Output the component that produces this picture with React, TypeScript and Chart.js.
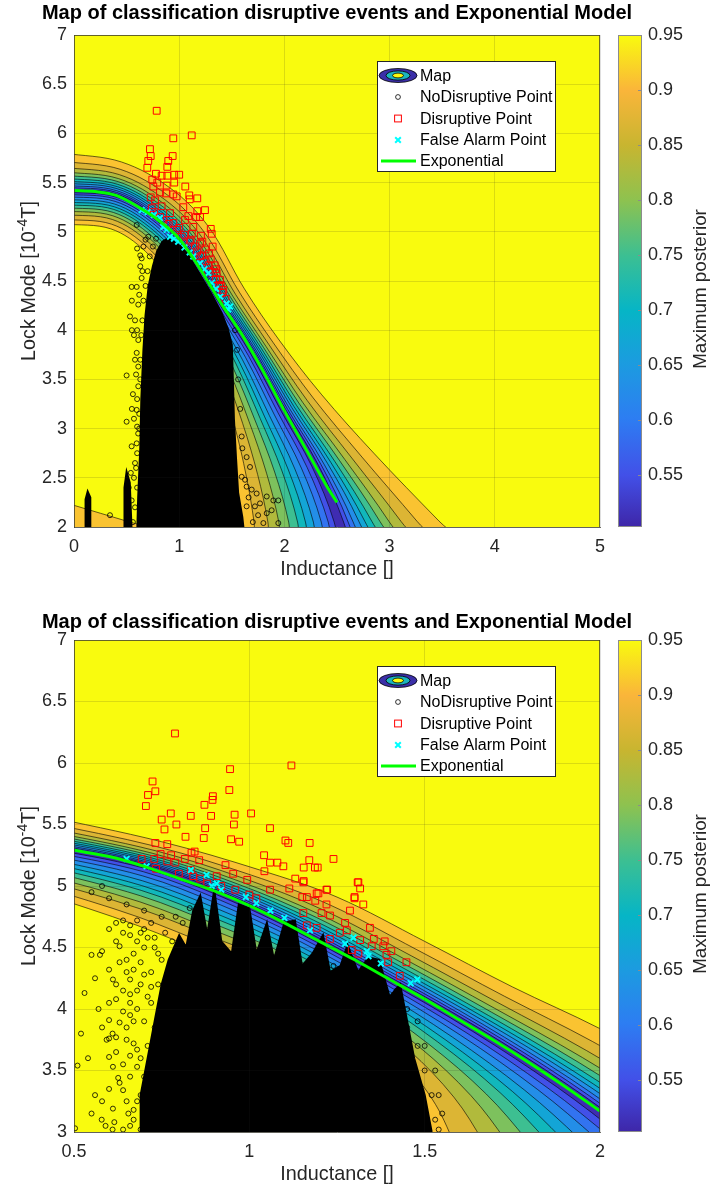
import React, { useEffect, useRef } from 'react';
import { Chart, registerables } from 'chart.js';

Chart.register(...registerables);

type Pt = [number, number];

const FONT = '"Liberation Sans", Arial, Helvetica, sans-serif';
const TEXT = '#262626';
const AXIS = 'rgba(60,60,50,0.75)';
const GRID = 'rgba(38,38,38,0.15)';

// ---------- shared text ----------
const TITLE = 'Map of classification disruptive events and Exponential Model';
const X_LABEL = 'Inductance []';
const Y_LABEL_PARTS = ['Lock Mode [10', '-4', 'T]'];
const CB_LABEL = 'Maximum posterior';
const LEGEND_LABELS = ['Map', 'NoDisruptive Point', 'Disruptive Point', 'False Alarm Point', 'Exponential'];

// ---------- colour bar ----------
const CB_MIN = 0.503;
const CB_MAX = 0.95;
const CB_TICKS = [0.55, 0.6, 0.65, 0.7, 0.75, 0.8, 0.85, 0.9, 0.95];
const PARULA_T = [0, 0.105, 0.22, 0.33, 0.44, 0.55, 0.665, 0.776, 0.888, 1];
const PARULA_C = ['#3E26A8', '#4250E8', '#2D7DF2', '#1C9BE0', '#06B5C6', '#3BBF93', '#8EC24F', '#C8B530', '#FAB53A', '#F9FB0E'];

// ---------- contour levels of the map ----------
const MAP_TOP_VALUE = 0.95;
const CONTOUR_LEVELS = [0.95, 0.91, 0.87, 0.83, 0.79, 0.75, 0.71, 0.67, 0.63, 0.59, 0.55];
const BAND_VALUES = [0.91, 0.87, 0.83, 0.79, 0.75, 0.71, 0.67, 0.63, 0.59, 0.55, 0.51];
const UPPER_FRACTIONS = [1, 0.78, 0.62, 0.5, 0.41, 0.33, 0.26, 0.2, 0.14, 0.09, 0.045];
const LOWER_FRACTIONS = [1, 0.86, 0.72, 0.61, 0.51, 0.42, 0.34, 0.26, 0.18, 0.11, 0.05];

// ================= TOP PANEL =================
const TOP_EXP_X = [0, 0.2, 0.4, 0.6, 0.8, 1.0, 1.2, 1.4, 1.6, 1.8, 2.0, 2.2, 2.4, 2.5];
const TOP_EXP_Y = [5.42, 5.41, 5.37, 5.26, 5.12, 4.93, 4.62, 4.27, 3.95, 3.58, 3.18, 2.8, 2.42, 2.25];

const TOP_MAP_MID: Pt[] = [[-0.1, 5.42], [0.4, 5.37], [0.8, 5.12], [1.1, 4.79], [1.4, 4.27], [1.7, 3.77], [2.0, 3.18], [2.3, 2.62], [2.52, 2.05], [2.6, 1.6]];
const TOP_MAP_UP: Pt[] = [[-0.1, 5.8], [0.45, 5.71], [0.92, 5.44], [1.28, 5.05], [1.62, 4.42], [1.95, 3.9], [2.35, 3.35], [2.85, 2.75], [3.47, 2.06], [3.9, 1.6]];
const TOP_MAP_LO: Pt[] = [[-0.1, 5.08], [0.35, 5.03], [0.68, 4.8], [0.93, 4.45], [1.15, 3.98], [1.32, 3.5], [1.45, 3.0], [1.53, 2.5], [1.58, 2.05], [1.62, 1.6]];
const TOP_CORNER_BAND: Pt[] = [[-0.1, 2.25], [0, 2.22], [0.25, 2.14], [0.5, 2.06], [0.8, 1.97], [0.8, 1.6], [-0.1, 1.6]];

const TOP_BLOB_MAIN: Pt[] = [[0.6, 1.9], [0.61, 2.3], [0.63, 2.8], [0.64, 3.3], [0.66, 3.8], [0.68, 4.15], [0.71, 4.45], [0.75, 4.65], [0.79, 4.8], [0.84, 4.9], [0.92, 4.95], [1.0, 4.88], [1.1, 4.74], [1.2, 4.56], [1.3, 4.38], [1.4, 4.18], [1.46, 4.02], [1.5, 3.85], [1.51, 3.5], [1.52, 3.1], [1.54, 2.7], [1.56, 2.35], [1.6, 2.1], [1.62, 1.9]];
const TOP_BLOB_SPIKE_A: Pt[] = [[0.11, 1.9], [0.11, 2.28], [0.13, 2.36], [0.155, 2.3], [0.155, 1.9]];
const TOP_BLOB_SPIKE_B: Pt[] = [[0.48, 1.9], [0.48, 2.4], [0.5, 2.56], [0.53, 2.45], [0.55, 1.9]];

const TOP_NODIS: Pt[] = [
  [0.548, 4.44], [0.596, 4.44], [0.532, 4.14], [0.611, 4.26], [0.62, 4.36], [0.643, 4.53], [0.65, 4.6], [0.643, 4.73], [0.63, 4.76], [0.6, 4.83],
  [0.596, 5.07], [0.706, 4.95], [0.5, 3.54], [0.5, 3.07], [0.596, 3.19], [0.548, 2.82], [0.596, 3.77], [0.611, 3.9], [0.611, 3.63], [0.611, 3.43],
  [0.596, 2.85], [0.58, 2.65], [0.548, 2.27], [0.342, 2.12], [0.55, 4.0], [0.58, 4.1], [0.6, 3.3], [0.62, 3.0], [0.6, 2.4], [0.58, 2.2],
  [0.63, 4.65], [0.66, 4.85], [0.68, 4.92], [0.55, 4.3], [0.57, 3.95], [0.59, 3.55], [0.6, 3.02], [0.57, 2.5], [0.56, 3.35],
  [0.52, 2.1], [0.56, 2.05], [0.59, 2.6], [0.6, 2.75], [0.61, 2.95], [0.62, 3.15], [0.63, 3.5], [0.63, 3.7], [0.64, 3.95], [0.65, 4.1],
  [0.66, 4.3], [0.68, 4.45], [0.7, 4.6], [0.72, 4.75], [0.75, 4.85], [0.78, 4.93], [0.57, 3.1], [0.55, 3.2], [0.58, 3.7], [0.6, 4.0],
  [0.52, 2.4], [0.54, 2.55],
  [1.594, 2.92], [1.641, 2.71], [1.673, 2.61], [1.626, 2.48], [1.689, 2.38], [1.736, 2.34], [1.768, 2.24], [1.832, 2.14], [1.895, 2.27], [1.942, 2.27],
  [1.942, 2.04], [1.8, 2.04], [1.641, 2.21], [1.594, 2.51], [1.641, 2.41], [1.832, 2.31], [1.879, 2.17], [1.72, 2.21], [1.58, 3.2], [1.56, 3.5],
  [1.55, 3.8], [1.53, 4.0], [1.6, 2.8], [1.7, 2.05], [1.75, 2.12], [1.66, 2.3],
];
const TOP_DIS: Pt[] = [
  [0.786, 6.23], [0.944, 5.95], [1.119, 5.98], [0.722, 5.84], [0.729, 5.77], [0.706, 5.72], [0.938, 5.77], [0.896, 5.72], [0.887, 5.66], [0.697, 5.65],
  [0.779, 5.59], [0.833, 5.57], [0.887, 5.57], [0.953, 5.58], [1.0, 5.58], [0.744, 5.53], [0.792, 5.5], [0.881, 5.47], [0.953, 5.5], [1.058, 5.46],
  [0.754, 5.46], [0.817, 5.4], [0.875, 5.39], [0.944, 5.38], [0.976, 5.36], [0.729, 5.35], [0.77, 5.32], [1.096, 5.37], [1.172, 5.34], [1.1, 5.33],
  [1.039, 5.25], [1.245, 5.22], [1.172, 5.21], [1.087, 5.16], [1.16, 5.15], [1.055, 5.12], [1.198, 5.15], [1.134, 5.05], [1.3, 5.03], [1.309, 4.98],
  [1.207, 4.96], [1.0, 5.04], [1.023, 4.95], [1.109, 4.92], [1.318, 4.85], [1.198, 4.88], [1.283, 4.78], [1.198, 4.75], [1.337, 4.66], [1.356, 4.58],
  [1.388, 4.51], [1.419, 4.41], [0.833, 5.26], [0.739, 5.24], [0.817, 5.15], [0.944, 5.09], [0.913, 5.19], [0.76, 5.2], [0.85, 5.12], [0.9, 5.08],
  [0.98, 5.02], [1.05, 4.97], [1.1, 4.9], [1.15, 4.85], [1.22, 4.76], [1.25, 4.7], [1.28, 4.66], [1.32, 4.58], [1.35, 4.52], [1.38, 4.46],
  [1.41, 4.38], [1.44, 4.32], [1.3, 4.72], [1.25, 4.82], [1.22, 4.9], [1.12, 4.98], [1.35, 4.62], [1.4, 4.45], [1.27, 4.6], [1.17, 4.8],
];
const TOP_FA: Pt[] = [
  [0.643, 5.22], [0.7, 5.2], [0.76, 5.17], [0.817, 5.14], [0.849, 5.05], [0.88, 5.02], [0.913, 4.95], [0.95, 4.93], [0.99, 4.9], [1.05, 4.84],
  [1.1, 4.79], [1.134, 4.75], [1.198, 4.68], [1.24, 4.62], [1.277, 4.58], [1.309, 4.48], [1.35, 4.42], [1.39, 4.34], [1.45, 4.27], [1.467, 4.21], [1.483, 4.24],
];

// ================= BOTTOM PANEL =================
const BOT_EXP_X = [0.5, 0.6, 0.7, 0.8, 0.9, 1.0, 1.1, 1.2, 1.3, 1.4, 1.5, 1.6, 1.7, 1.8, 1.9, 2.0];
const BOT_EXP_Y = [5.29, 5.24, 5.16, 5.06, 4.96, 4.84, 4.7, 4.55, 4.4, 4.24, 4.08, 3.91, 3.74, 3.56, 3.37, 3.17];

const BOT_MAP_MID: Pt[] = [[0.4, 5.34], [0.7, 5.17], [0.92, 4.94], [1.15, 4.63], [1.4, 4.24], [1.65, 3.83], [1.9, 3.37], [2.1, 2.95], [2.25, 2.6]];
const BOT_MAP_UP: Pt[] = [[0.4, 5.58], [0.75, 5.36], [1.03, 5.13], [1.25, 4.91], [1.5, 4.55], [1.75, 4.18], [2.0, 3.84], [2.25, 3.45], [2.45, 3.1]];
const BOT_MAP_LO: Pt[] = [[0.4, 4.95], [0.68, 4.68], [0.9, 4.43], [1.08, 4.24], [1.25, 3.95], [1.38, 3.6], [1.46, 3.25], [1.5, 2.9], [1.52, 2.6]];

const BOT_BLOB_MAIN: Pt[] = [
  [0.69, 2.9], [0.69, 3.3], [0.71, 3.6], [0.73, 3.9], [0.75, 4.2], [0.77, 4.4], [0.8, 4.6], [0.82, 4.5], [0.84, 4.8], [0.86, 4.92],
  [0.88, 4.6], [0.9, 4.97], [0.92, 4.55], [0.95, 4.45], [0.97, 4.85], [1.0, 4.82], [1.02, 4.45], [1.05, 4.7], [1.07, 4.4], [1.1, 4.7],
  [1.13, 4.72], [1.15, 4.35], [1.18, 4.45], [1.21, 4.6], [1.23, 4.3], [1.26, 4.35], [1.28, 4.52], [1.31, 4.3], [1.34, 4.42], [1.37, 4.4],
  [1.4, 4.1], [1.43, 4.2], [1.45, 3.9], [1.47, 3.6], [1.5, 3.3], [1.52, 3.0], [1.53, 2.9],
];
const BOT_NODIS: Pt[] = [
  [0.55, 4.44], [0.574, 4.44], [0.53, 4.13], [0.6, 4.32], [0.611, 4.24], [0.63, 4.51], [0.64, 4.62], [0.65, 4.4], [0.66, 4.24], [0.6, 3.91],
  [0.63, 3.89], [0.593, 3.75], [0.6, 3.61], [0.611, 3.53], [0.51, 3.54], [0.611, 3.19], [0.626, 3.44], [0.64, 3.34], [0.655, 3.15], [0.579, 3.1],
  [0.503, 3.03], [0.6, 3.76], [0.62, 3.77], [0.65, 3.75], [0.67, 3.72], [0.68, 3.67], [0.69, 3.6], [0.68, 3.53], [0.66, 4.6], [0.68, 4.55],
  [0.7, 4.5], [0.67, 4.32], [0.69, 4.2], [0.71, 4.1], [0.68, 4.0], [0.7, 3.9], [0.66, 3.95], [0.72, 4.3], [0.74, 4.45], [0.7, 4.65],
  [0.72, 4.7], [0.68, 4.72], [0.6, 4.65], [0.62, 4.55], [0.58, 4.47], [0.66, 3.45], [0.7, 3.35], [0.68, 3.25], [0.7, 3.1], [0.66, 3.05],
  [0.72, 3.2], [0.6, 3.35], [0.64, 3.02], [0.55, 4.95], [0.6, 4.9], [0.65, 4.85], [0.58, 5.0], [0.7, 4.8], [0.75, 4.75], [0.73, 4.58],
  [0.62, 4.08], [0.64, 4.15], [0.66, 4.05], [0.61, 3.02], [0.615, 3.08], [1.5, 3.5], [1.52, 3.3], [1.48, 3.7], [1.53, 3.1], [1.45, 3.85],
  [1.42, 3.95], [1.38, 4.05], [1.35, 4.12], [1.27, 4.1], [1.25, 4.0], [1.28, 3.95], [1.33, 3.95], [0.79, 4.75], [0.83, 4.82],
  [0.62, 4.7], [0.64, 4.72], [0.66, 4.68], [0.69, 4.62], [0.71, 4.58], [0.73, 4.5], [0.75, 4.4], [0.74, 4.2], [0.72, 4.05], [0.73, 3.85],
  [0.71, 3.7], [0.72, 3.5], [0.7, 3.45], [0.69, 3.3], [0.71, 3.25], [0.67, 3.18], [0.69, 3.02], [0.67, 3.1], [0.65, 3.25], [0.63, 3.4],
  [0.64, 3.55], [0.66, 3.62], [0.65, 3.85], [0.67, 3.9], [0.64, 3.98], [0.66, 4.12], [0.68, 4.15], [0.65, 4.3], [0.67, 4.45], [0.69, 4.38],
  [0.7, 4.28], [0.72, 4.18], [0.63, 4.38], [0.62, 4.2], [0.6, 4.05], [0.61, 3.8], [0.62, 3.65], [0.58, 3.85], [0.57, 4.0], [0.56, 4.25],
  [0.54, 3.6], [0.52, 3.8], [0.56, 3.3], [0.58, 3.25], [0.55, 3.15], [0.59, 3.05], [0.73, 3.05], [0.72, 3.35], [0.74, 3.6], [0.75, 3.75],
  [0.76, 4.0], [0.77, 4.3], [0.78, 4.55], [0.76, 4.62], [0.81, 4.7], [0.85, 4.6], [0.9, 4.55], [0.93, 4.4], [0.98, 4.4], [1.03, 4.45],
  [1.08, 4.35], [1.15, 4.3], [1.2, 4.3], [1.24, 4.35], [1.3, 4.3], [1.35, 4.35], [1.42, 4.15], [1.45, 4.0], [1.48, 3.9], [1.5, 3.7],
  [1.53, 3.5], [1.54, 3.3], [1.55, 3.15], [1.54, 3.02],
];
const BOT_DIS: Pt[] = [
  [0.788, 6.24], [0.945, 5.95], [1.12, 5.98], [0.724, 5.85], [0.711, 5.74], [0.732, 5.77], [0.705, 5.65], [0.943, 5.78], [0.896, 5.73], [0.895, 5.7],
  [0.872, 5.66], [0.776, 5.59], [0.833, 5.57], [0.891, 5.57], [0.958, 5.58], [1.005, 5.59], [0.75, 5.54], [0.792, 5.5], [0.956, 5.5], [0.758, 5.46],
  [0.874, 5.47], [1.059, 5.47], [0.818, 5.4], [0.87, 5.39], [0.948, 5.38], [0.971, 5.36], [1.103, 5.37], [1.111, 5.35], [1.172, 5.35], [0.732, 5.35],
  [0.766, 5.34], [0.844, 5.28], [0.835, 5.27], [1.042, 5.25], [0.747, 5.26], [0.777, 5.25], [0.693, 5.22], [0.729, 5.22], [0.816, 5.22], [0.857, 5.21],
  [1.24, 5.22], [1.059, 5.19], [1.08, 5.19], [1.171, 5.21], [1.187, 5.15], [1.195, 5.15], [1.097, 5.16], [1.043, 5.12], [1.155, 5.15], [0.734, 5.14],
  [0.766, 5.2], [0.789, 5.19], [0.799, 5.1], [0.833, 5.13], [0.932, 5.17], [0.954, 5.1], [0.907, 5.08], [1.131, 5.06], [1.155, 5.04], [0.994, 5.05],
  [1.114, 4.98], [1.22, 4.97], [1.309, 5.03], [1.151, 4.91], [1.192, 4.94], [1.3, 4.91], [1.059, 4.97], [1.154, 5.03], [1.197, 4.94], [1.222, 4.97],
  [1.311, 5.03], [1.316, 4.98], [1.3, 4.9], [1.325, 4.85], [1.287, 4.8], [1.188, 4.88], [1.164, 4.91], [1.206, 4.78], [1.23, 4.76], [1.22, 4.85],
  [1.344, 4.66], [1.273, 4.7], [1.278, 4.64], [1.316, 4.56], [1.355, 4.57], [1.386, 4.55], [1.382, 4.51], [1.405, 4.47], [1.391, 4.44], [1.349, 4.51],
  [1.292, 4.48], [1.311, 4.45], [1.396, 4.38], [1.448, 4.38], [1.429, 4.27], [1.154, 4.78], [1.23, 4.57], [1.258, 4.62], [1.192, 4.66], [1.164, 4.68],
  [0.86, 5.06], [0.88, 5.02], [0.92, 5.0], [0.96, 4.97], [1.0, 4.93], [1.02, 4.9], [0.84, 5.08],
];
const BOT_FA: Pt[] = [
  [0.65, 5.22], [0.707, 5.16], [0.833, 5.13], [0.878, 5.09], [0.893, 5.0], [0.907, 5.02], [0.92, 4.97], [0.99, 4.91], [1.02, 4.86], [1.06, 4.8],
  [1.1, 4.74], [1.173, 4.64], [1.297, 4.58], [1.273, 4.53], [1.335, 4.47], [1.34, 4.43], [1.375, 4.37], [1.46, 4.21], [1.479, 4.24],
];

// ---------- helpers ----------
function hexRgb(h: string) {
  const n = parseInt(h.slice(1), 16);
  return [(n >> 16) & 255, (n >> 8) & 255, n & 255];
}
function parula(v: number) {
  let t = (v - CB_MIN) / (CB_MAX - CB_MIN);
  t = Math.max(0, Math.min(1, t));
  for (let i = 0; i < PARULA_T.length - 1; i++) {
    if (t <= PARULA_T[i + 1]) {
      const f = (t - PARULA_T[i]) / (PARULA_T[i + 1] - PARULA_T[i]);
      const a = hexRgb(PARULA_C[i]);
      const b = hexRgb(PARULA_C[i + 1]);
      const c = a.map((x, k) => Math.round(x + f * (b[k] - x)));
      return `rgb(${c[0]},${c[1]},${c[2]})`;
    }
  }
  return PARULA_C[PARULA_C.length - 1];
}
const pts = (a: Pt[]) => a.map(([x, y]) => ({ x, y }));

function contourPolygons(mid: Pt[], up: Pt[], lo: Pt[]): Pt[][] {
  return UPPER_FRACTIONS.map((fu, k) => {
    const fl = LOWER_FRACTIONS[k];
    const upper = mid.map((m, i) => [m[0] + fu * (up[i][0] - m[0]), m[1] + fu * (up[i][1] - m[1])] as Pt);
    const lower = mid.map((m, i) => [m[0] + fl * (lo[i][0] - m[0]), m[1] + fl * (lo[i][1] - m[1])] as Pt).reverse();
    return upper.concat(lower);
  });
}

interface PanelCfg {
  top: number; height: number; titleY: number;
  xMin: number; xMax: number; xStep: number; yMin: number; yMax: number;
  mapMid: Pt[]; mapUp: Pt[]; mapLo: Pt[]; extraBands: Pt[][]; blobs: Pt[][];
  noDis: Pt[]; dis: Pt[]; fa: Pt[]; expX: number[]; expY: number[];
}

const PANELS: PanelCfg[] = [
  {
    top: 0, height: 605, titleY: 13, xMin: 0, xMax: 5, xStep: 1, yMin: 2, yMax: 7,
    mapMid: TOP_MAP_MID, mapUp: TOP_MAP_UP, mapLo: TOP_MAP_LO, extraBands: [TOP_CORNER_BAND],
    blobs: [TOP_BLOB_MAIN, TOP_BLOB_SPIKE_A, TOP_BLOB_SPIKE_B],
    noDis: TOP_NODIS, dis: TOP_DIS, fa: TOP_FA, expX: TOP_EXP_X, expY: TOP_EXP_Y,
  },
  {
    top: 605, height: 584, titleY: 17, xMin: 0.5, xMax: 2, xStep: 0.5, yMin: 3, yMax: 7,
    mapMid: BOT_MAP_MID, mapUp: BOT_MAP_UP, mapLo: BOT_MAP_LO, extraBands: [],
    blobs: [BOT_BLOB_MAIN],
    noDis: BOT_NODIS, dis: BOT_DIS, fa: BOT_FA, expX: BOT_EXP_X, expY: BOT_EXP_Y,
  },
];

function buildDatasets(p: PanelCfg) {
  const ds: any[] = [];
  const bg: Pt[] = [[p.xMin - 1, p.yMin - 1], [p.xMax + 1, p.yMin - 1], [p.xMax + 1, p.yMax + 1], [p.xMin - 1, p.yMax + 1]];
  ds.push({
    label: 'Map top', data: pts(bg), showLine: true, fill: 'shape', backgroundColor: parula(MAP_TOP_VALUE),
    borderWidth: 0, borderColor: 'rgba(0,0,0,0)', pointRadius: 0, order: 2000, clip: 0,
  });
  contourPolygons(p.mapMid, p.mapUp, p.mapLo).forEach((poly, k) => {
    ds.push({
      label: 'Map ' + CONTOUR_LEVELS[k], data: pts(poly), showLine: true, fill: 'shape',
      backgroundColor: parula(BAND_VALUES[k]), borderColor: 'rgba(0,0,0,0.85)', borderWidth: 0.7,
      pointRadius: 0, tension: 0.35, order: 1000 - k, clip: 0,
    });
  });
  p.extraBands.forEach((poly) => {
    ds.push({
      label: 'Map corner', data: pts(poly), showLine: true, fill: 'shape',
      backgroundColor: parula(BAND_VALUES[0]), borderColor: 'rgba(0,0,0,0.85)', borderWidth: 0.7,
      pointRadius: 0, tension: 0, order: 980, clip: 0,
    });
  });
  p.blobs.forEach((poly) => {
    ds.push({
      label: 'NoDisruptive dense', data: pts(poly), showLine: true, fill: 'shape',
      backgroundColor: '#000', borderColor: '#000', borderWidth: 2, pointRadius: 0, tension: 0, order: 500, clip: 0,
    });
  });
  ds.push({
    label: LEGEND_LABELS[1], data: pts(p.noDis), showLine: false, pointStyle: 'circle', pointRadius: 2.5,
    borderColor: '#000', borderWidth: 0.8, backgroundColor: 'rgba(0,0,0,0)', order: 400,
  });
  ds.push({
    label: LEGEND_LABELS[2], data: pts(p.dis), showLine: false, pointStyle: 'rect', pointRadius: 4.8,
    borderColor: '#FF0000', borderWidth: 1, backgroundColor: 'rgba(0,0,0,0)', order: 300,
  });
  ds.push({
    label: LEGEND_LABELS[3], data: pts(p.fa), showLine: false, pointStyle: 'crossRot', pointRadius: 4,
    borderColor: '#00FFFF', borderWidth: 2, backgroundColor: '#00FFFF', order: 200,
  });
  ds.push({
    label: LEGEND_LABELS[4], data: p.expX.map((x, i) => ({ x, y: p.expY[i] })), showLine: true, fill: false,
    borderColor: '#00FF00', borderWidth: 3, pointRadius: 0, tension: 0.3, order: 100,
  });
  return ds;
}

function drawLegend(ctx: CanvasRenderingContext2D) {
  const x0 = 377, y0 = 61, w = 179, h = 111;
  const rows = [75.5, 97, 118.5, 140, 161];
  const ix = 398, tx = 420;
  ctx.save();
  ctx.fillStyle = '#fff';
  ctx.fillRect(x0, y0, w, h);
  ctx.strokeStyle = '#262626';
  ctx.lineWidth = 1;
  ctx.strokeRect(x0 + 0.5, y0 + 0.5, w - 1, h - 1);
  const ell = (rx: number, ry: number, col: string) => {
    ctx.beginPath();
    ctx.ellipse(ix, rows[0], rx, ry, 0, 0, Math.PI * 2);
    ctx.fillStyle = col;
    ctx.fill();
    ctx.lineWidth = 0.8;
    ctx.strokeStyle = '#000';
    ctx.stroke();
  };
  ell(19, 7, '#3B2FA8');
  ell(12, 4.6, '#1BB4BE');
  ell(5.5, 2.4, '#F9FB0E');
  ctx.beginPath();
  ctx.arc(ix, rows[1], 2.4, 0, Math.PI * 2);
  ctx.strokeStyle = '#000';
  ctx.lineWidth = 0.8;
  ctx.stroke();
  ctx.strokeStyle = '#FF0000';
  ctx.lineWidth = 1;
  ctx.strokeRect(ix - 3.4, rows[2] - 3.4, 6.8, 6.8);
  ctx.strokeStyle = '#00FFFF';
  ctx.lineWidth = 2;
  ctx.beginPath();
  ctx.moveTo(ix - 2.8, rows[3] - 2.8); ctx.lineTo(ix + 2.8, rows[3] + 2.8);
  ctx.moveTo(ix + 2.8, rows[3] - 2.8); ctx.lineTo(ix - 2.8, rows[3] + 2.8);
  ctx.stroke();
  ctx.strokeStyle = '#00FF00';
  ctx.lineWidth = 3;
  ctx.beginPath();
  ctx.moveTo(381, rows[4]); ctx.lineTo(416, rows[4]);
  ctx.stroke();
  ctx.fillStyle = '#000';
  ctx.font = `16px ${FONT}`;
  ctx.textAlign = 'left';
  ctx.textBaseline = 'middle';
  LEGEND_LABELS.forEach((t, i) => ctx.fillText(t, tx, rows[i] + 1));
  ctx.restore();
}

function drawYLabel(ctx: CanvasRenderingContext2D, cx: number, cy: number) {
  const fonts = [`19.8px ${FONT}`, `14px ${FONT}`, `19.8px ${FONT}`];
  const dys = [0, -7, 0];
  const widths = Y_LABEL_PARTS.map((t, i) => { ctx.font = fonts[i]; return ctx.measureText(t).width; });
  const total = widths.reduce((a, b) => a + b, 0);
  ctx.save();
  ctx.translate(cx, cy);
  ctx.rotate(-Math.PI / 2);
  ctx.fillStyle = TEXT;
  ctx.textAlign = 'left';
  ctx.textBaseline = 'middle';
  let x = -total / 2;
  Y_LABEL_PARTS.forEach((t, i) => {
    ctx.font = fonts[i];
    ctx.fillText(t, x, dys[i]);
    x += widths[i];
  });
  ctx.restore();
}

const decorPlugin = {
  id: 'decor',
  afterDraw(chart: any, _args: any, opts: any) {
    const { ctx, chartArea: a } = chart;
    ctx.save();
    ctx.strokeStyle = AXIS;
    ctx.lineWidth = 1;
    ctx.beginPath();
    ctx.moveTo(a.left, a.top + 0.5); ctx.lineTo(a.right, a.top + 0.5);
    ctx.moveTo(a.right - 0.5, a.top); ctx.lineTo(a.right - 0.5, a.bottom);
    ctx.stroke();
    ctx.fillStyle = '#000';
    ctx.font = `bold 20px ${FONT}`;
    ctx.textAlign = 'center';
    ctx.textBaseline = 'middle';
    ctx.fillText(TITLE, (a.left + a.right) / 2, opts.titleY);
    ctx.fillStyle = TEXT;
    ctx.font = `19.8px ${FONT}`;
    ctx.fillText(X_LABEL, (a.left + a.right) / 2, 570);
    ctx.restore();
    drawYLabel(ctx, 30, (a.top + a.bottom) / 2);
    drawLegend(ctx);
  },
};

const cbPlugin = {
  id: 'cbDecor',
  afterDraw(chart: any) {
    const { ctx, chartArea: a } = chart;
    const ys = chart.scales.y;
    ctx.save();
    ctx.strokeStyle = '#8c8c8c';
    ctx.lineWidth = 1;
    ctx.strokeRect(a.left + 0.5, a.top + 0.5, a.right - a.left - 1, a.bottom - a.top - 1);
    ctx.beginPath();
    CB_TICKS.forEach((v) => {
      const y = Math.round(ys.getPixelForValue(v)) + 0.5;
      ctx.moveTo(a.right - 4, y); ctx.lineTo(a.right, y);
    });
    ctx.stroke();
    ctx.translate(101, 289);
    ctx.rotate(-Math.PI / 2);
    ctx.fillStyle = TEXT;
    ctx.font = `18.8px ${FONT}`;
    ctx.textAlign = 'center';
    ctx.textBaseline = 'middle';
    ctx.fillText(CB_LABEL, 0, 0);
    ctx.restore();
  },
};

const fmt = (v: any) => String(Math.round(Number(v) * 100) / 100);

function Panel({ p }: { p: PanelCfg }) {
  const mainRef = useRef<HTMLCanvasElement>(null);
  const cbRef = useRef<HTMLCanvasElement>(null);
  useEffect(() => {
    const tickFont = { size: 18, family: FONT };
    const main = new Chart(mainRef.current as HTMLCanvasElement, {
      type: 'scatter',
      data: { datasets: buildDatasets(p) },
      options: {
        responsive: false,
        animation: false,
        events: [],
        layout: { padding: { left: 0, right: 118, top: 35, bottom: 0 } },
        elements: { line: { capBezierPoints: false } },
        plugins: { legend: { display: false }, tooltip: { enabled: false }, title: { display: false }, decor: { titleY: p.titleY } },
        scales: {
          x: {
            type: 'linear', min: p.xMin, max: p.xMax,
            ticks: { stepSize: p.xStep, autoSkip: false, maxRotation: 0, padding: 9, color: TEXT, font: tickFont, callback: fmt },
            grid: { color: GRID, drawTicks: false, z: 1 },
            border: { display: true, color: AXIS, width: 1, z: 1 },
            afterFit: (s: any) => { s.height = p.height - 527; },
          },
          y: {
            type: 'linear', min: p.yMin, max: p.yMax,
            ticks: { stepSize: 0.5, autoSkip: false, padding: 7, color: TEXT, font: tickFont, callback: fmt },
            grid: { color: GRID, drawTicks: false, z: 1 },
            border: { display: true, color: AXIS, width: 1, z: 1 },
            afterFit: (s: any) => { s.width = 74; },
          },
        },
      } as any,
      plugins: [decorPlugin],
    });
    const cb = new Chart(cbRef.current as HTMLCanvasElement, {
      type: 'bar',
      data: {
        labels: [''],
        datasets: [{
          data: [[CB_MIN, CB_MAX]] as any,
          backgroundColor: (c: any) => {
            const area = c.chart.chartArea;
            if (!area) return PARULA_C[0];
            const g = c.chart.ctx.createLinearGradient(0, area.bottom, 0, area.top);
            PARULA_T.forEach((t, i) => g.addColorStop(t, PARULA_C[i]));
            return g;
          },
          borderWidth: 0, barPercentage: 1, categoryPercentage: 1,
        }],
      },
      options: {
        responsive: false,
        animation: false,
        events: [],
        layout: { padding: { left: 18, right: 0, top: 35, bottom: p.height - 527 } },
        plugins: { legend: { display: false }, tooltip: { enabled: false } },
        scales: {
          x: { display: false },
          y: {
            position: 'right', min: CB_MIN, max: CB_MAX,
            afterBuildTicks: (s: any) => { s.ticks = CB_TICKS.map((v) => ({ value: v })); },
            ticks: { padding: 6, color: TEXT, font: tickFont, callback: fmt },
            grid: { display: false, drawTicks: false },
            border: { display: false },
            afterFit: (s: any) => { s.width = 76; },
          },
        },
      } as any,
      plugins: [cbPlugin],
    });
    return () => { main.destroy(); cb.destroy(); };
  }, []);
  return (
    <div style={{ position: 'absolute', left: 0, top: p.top, width: 718, height: p.height }}>
      <canvas ref={mainRef} width={718} height={p.height} style={{ position: 'absolute', left: 0, top: 0, width: 718, height: p.height }} />
      <canvas ref={cbRef} width={118} height={p.height} style={{ position: 'absolute', left: 600, top: 0, width: 118, height: p.height }} />
    </div>
  );
}

export default function App() {
  return (
    <div style={{ position: 'absolute', left: 0, top: 0, width: 718, height: 1189, background: '#fff', overflow: 'hidden' }}>
      {PANELS.map((p, i) => <Panel key={i} p={p} />)}
    </div>
  );
}
